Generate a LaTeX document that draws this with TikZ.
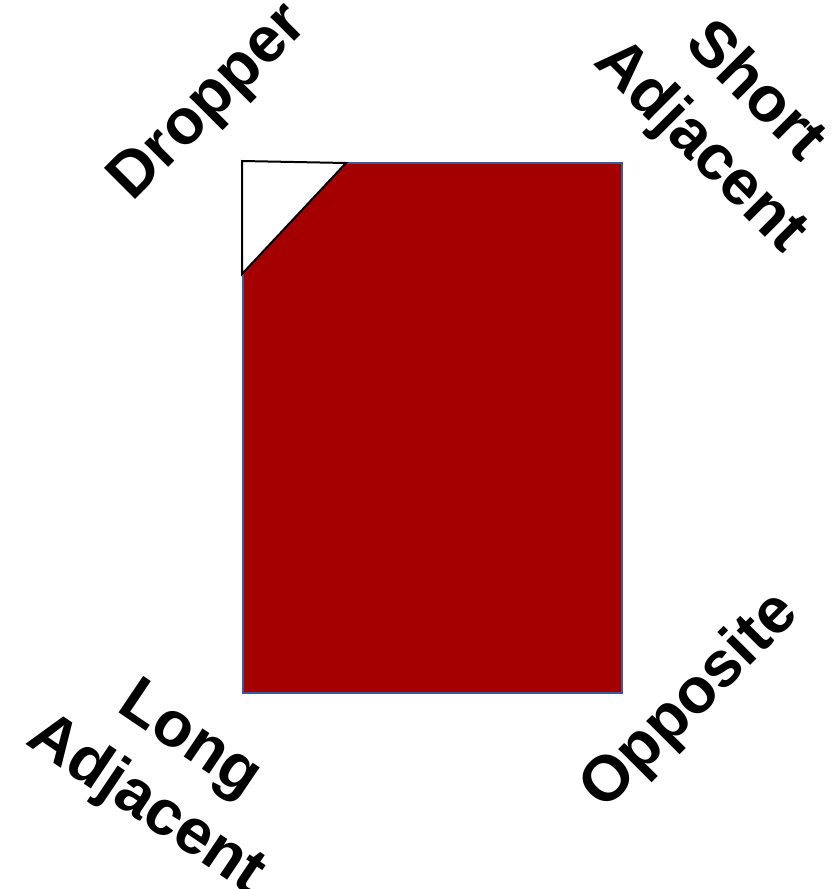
\documentclass[tikz,border=0pt]{standalone}
\usepackage{fontspec}
\setmainfont{Liberation Sans}
\definecolor{cardred}{HTML}{A50000}
\definecolor{cardedge}{HTML}{3A5A9A}
\tikzset{
  lbl/.style={font=\fontsize{64}{78}\selectfont\bfseries, align=center, inner sep=0pt},
}
\begin{document}
\begin{tikzpicture}[x=1pt,y=-1pt]
\useasboundingbox (0,0) rectangle (833,889);
\node[draw=cardedge, fill=cardred, line width=1.5pt, minimum width=379pt, minimum height=530pt, inner sep=0pt, anchor=north west] (card) at (242,162) {};
\coordinate (ta) at (242,161);
\coordinate (tb) at (346,163);
\coordinate (tc) at (242,274);
\draw[fill=white, line width=2pt, line join=miter] (ta) -- (tb) -- (tc) -- cycle;
\node[lbl, rotate=45] (dropper) at (210,104) {Dropper};
\node[lbl, rotate=-45] (short) at (727,120) {Short\\Adjacent};
\node[lbl, rotate=-34] (long) at (167,774) {Long\\Adjacent};
\node[lbl, rotate=45] (opp) at (691,702) {Opposite};
\end{tikzpicture}
\end{document}
